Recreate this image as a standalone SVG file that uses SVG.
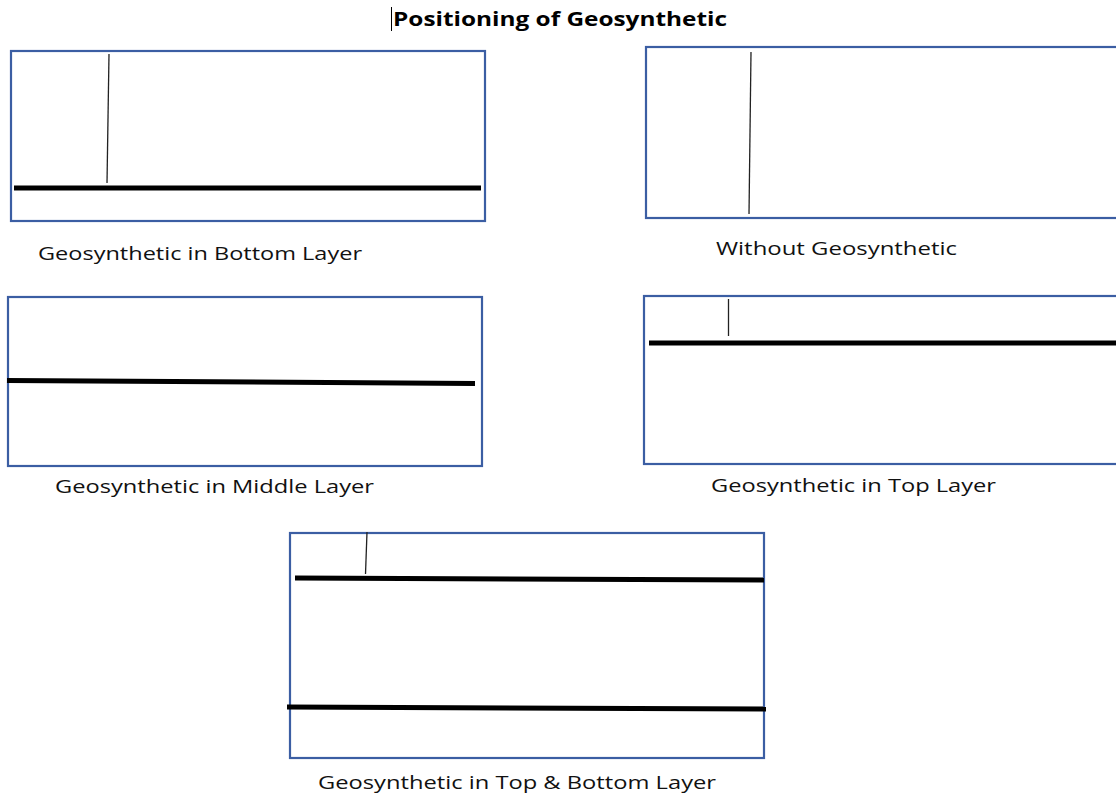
<svg xmlns="http://www.w3.org/2000/svg" width="1116" height="796" viewBox="0 0 1116 796">
<style>
.box{fill:#fff;stroke:#3b5ea3;stroke-width:2.2}
.geo{stroke:#000;stroke-width:5;stroke-linecap:butt}
.thin{stroke:#222;stroke-width:1.3}
.lbl{font-family:"Open Sans","Liberation Sans",sans-serif;font-size:18px;fill:#111}
.title{font-family:"Open Sans","Liberation Sans",sans-serif;font-size:19px;font-weight:bold;fill:#000}
</style>
<rect width="1116" height="796" fill="#fff"/>
<g id="title">
<line x1="391.5" y1="7" x2="391.5" y2="31" stroke="#000" stroke-width="1"/>
<text class="title" x="393" y="26" textLength="334" lengthAdjust="spacingAndGlyphs">Positioning of Geosynthetic</text>
</g>
<g id="bottom-layer">
<rect class="box" x="11" y="51" width="474" height="170"/>
<text class="lbl" x="38" y="260" textLength="324" lengthAdjust="spacingAndGlyphs">Geosynthetic in Bottom Layer</text>
</g>
<g id="without">
<rect class="box" x="646" y="47" width="480" height="171"/>
<text class="lbl" x="716" y="255" textLength="241" lengthAdjust="spacingAndGlyphs">Without Geosynthetic</text>
</g>
<g id="middle-layer">
<rect class="box" x="8" y="297" width="474" height="169"/>
<text class="lbl" x="55" y="493" textLength="319" lengthAdjust="spacingAndGlyphs">Geosynthetic in Middle Layer</text>
</g>
<g id="top-layer">
<rect class="box" x="644" y="296" width="480" height="168"/>
<text class="lbl" x="711" y="492" textLength="285" lengthAdjust="spacingAndGlyphs">Geosynthetic in Top Layer</text>
</g>
<g id="top-bottom-layer">
<rect class="box" x="290" y="533" width="474" height="225"/>
<text class="lbl" x="318" y="789" textLength="398" lengthAdjust="spacingAndGlyphs">Geosynthetic in Top &amp; Bottom Layer</text>
</g>
<g id="connectors">
<line class="geo" x1="14" y1="188" x2="481" y2="188"/>
<line class="thin" x1="109" y1="54" x2="107" y2="183"/>
<line class="thin" x1="751" y1="52" x2="749" y2="214"/>
<line class="geo" x1="7" y1="380.5" x2="475" y2="383.5"/>
<line class="geo" x1="649" y1="343" x2="1116" y2="343"/>
<line class="thin" x1="728.5" y1="299" x2="728.5" y2="336"/>
<line class="geo" x1="295" y1="578" x2="764" y2="580"/>
<line class="geo" x1="287" y1="707" x2="766" y2="709"/>
<line class="thin" x1="367" y1="532" x2="365.5" y2="574"/>
</g>
</svg>
